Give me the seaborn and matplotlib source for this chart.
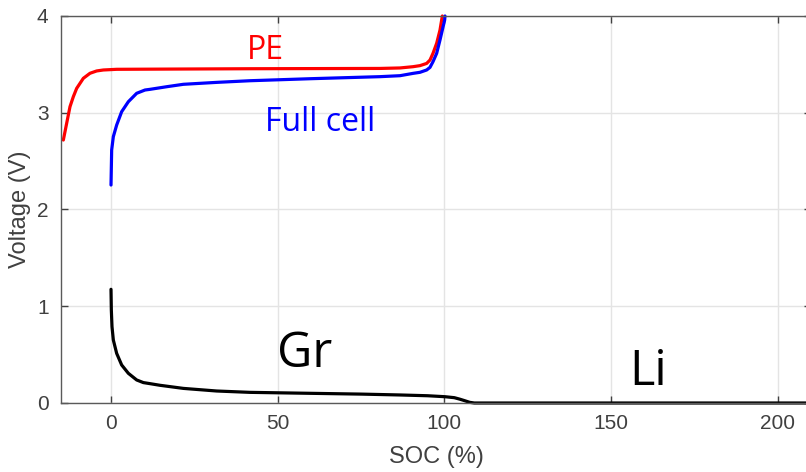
import numpy as np
import pandas as pd
import matplotlib
matplotlib.use("Agg")
import matplotlib.pyplot as plt
import seaborn as sns

# ---- data ----
pe_soc = [-14.3, -13.3, -12.3, -11.3, -10.3, -8.3, -6.3, -4.3, -2.3, 1.7, 41.7,
          80.7, 86.7, 90.6, 92.7, 94.7, 95.7, 96.6, 97.7, 98.7, 99.2, 99.4]
pe_v = [2.718, 2.891, 3.063, 3.166, 3.252, 3.356, 3.408, 3.432, 3.442, 3.449, 3.455,
        3.458, 3.463, 3.476, 3.487, 3.510, 3.545, 3.614, 3.718, 3.855, 3.959, 4.00]

full_soc = [0, 0.2, 0.7, 1.7, 3.2, 5.2, 7.7, 10.2, 11.7, 16.7, 21.7, 31.7, 41.7,
            60, 80.7, 86.7, 90.6, 92.7, 94.7, 95.7, 96.6, 97.7, 98.7, 100.1, 100.2]
full_v = [2.253, 2.615, 2.753, 2.873, 3.011, 3.114, 3.201, 3.235, 3.242, 3.269, 3.294,
          3.314, 3.331, 3.352, 3.373, 3.383, 3.407, 3.418, 3.442, 3.469, 3.528, 3.614,
          3.752, 3.959, 4.00]

gr_soc = [0, 0.1, 0.3, 0.7, 1.7, 3.2, 5.2, 7.7, 9.7, 11.7, 14.7, 21.7, 31.7, 41.7,
          60, 75, 86.7, 95, 100.2, 103, 104.6, 106, 107.6, 109, 215]
gr_v = [1.175, 0.961, 0.789, 0.651, 0.513, 0.393, 0.307, 0.238, 0.211, 0.200, 0.183,
        0.151, 0.124, 0.110, 0.100, 0.092, 0.083, 0.075, 0.065, 0.055, 0.040, 0.025,
        0.007, 0.0, 0.0]

x_ticks = [0, 50, 100, 150, 200]
y_ticks = [0, 1, 2, 3, 4]

pe_df = pd.DataFrame({"SOC": pe_soc, "V": pe_v})
full_df = pd.DataFrame({"SOC": full_soc, "V": full_v})
gr_df = pd.DataFrame({"SOC": gr_soc, "V": gr_v})

sns.set_theme(style="white")
plt.rcParams["font.family"] = ["Liberation Sans", "DejaVu Sans"]

fig = plt.figure(figsize=(8.06, 4.72), dpi=100)
ax = fig.add_axes([61 / 806, 69 / 472, 750 / 806, 387 / 472])

lw = 2.3
for df, col in [(pe_df, "#ff0000"), (full_df, "#0000ff"), (gr_df, "#000000")]:
    sns.lineplot(data=df, x="SOC", y="V", ax=ax, color=col, lw=lw,
                 estimator=None, sort=False)
for ln in ax.get_lines():
    ln.set_clip_on(False)
    ln.set_solid_joinstyle("round")
    ln.set_solid_capstyle("round")

ax.set_xlim(-15, 210)
ax.set_ylim(0, 4)
ax.set_xticks(x_ticks)
ax.set_yticks(y_ticks)
ax.grid(True, color="#e4e4e4", lw=1.0)
ax.set_axisbelow(True)

tick_col = "#404040"
ax.tick_params(axis="both", direction="in", length=5, width=1.0, colors=tick_col,
               labelsize=15, top=True, right=True, bottom=True, left=True)
ax.tick_params(axis="x", pad=8)
ax.tick_params(axis="y", pad=9)
for s in ax.spines.values():
    s.set_color("#5a5a5a")
    s.set_linewidth(1.0)
    s.set_visible(True)

ax.set_xlabel("SOC (%)", fontsize=17, color=tick_col, labelpad=9)
ax.set_ylabel("Voltage (V)", fontsize=17, color=tick_col, labelpad=4)

cal = ["Open Sans", "DejaVu Sans"]
ax.text(46.2, 3.64, "PE", color="#ff0000", fontsize=23, family=cal,
        ha="center", va="center")
ax.text(62.7, 2.90, "Full cell", color="#0000ff", fontsize=23, family=cal,
        ha="center", va="center")
ax.text(58.2, 0.50, "Gr", color="#000000", fontsize=35, family=cal,
        ha="center", va="center")
ax.text(161, 0.32, "Li", color="#000000", fontsize=35, family=cal,
        ha="center", va="center")

fig.savefig("out.png", dpi=100)
